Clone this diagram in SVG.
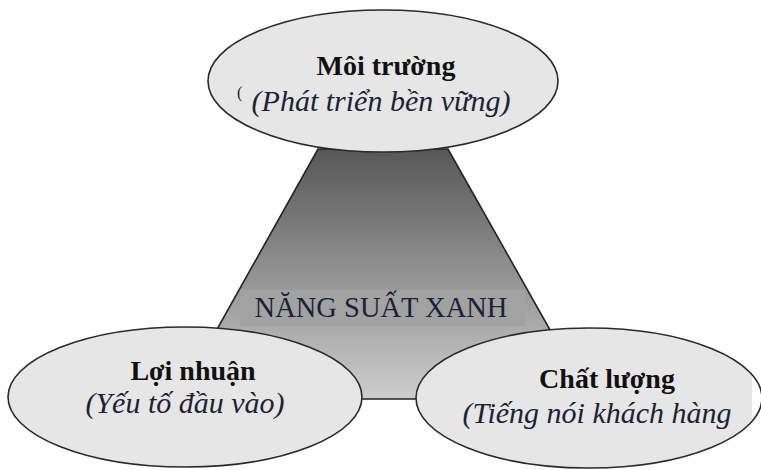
<svg xmlns="http://www.w3.org/2000/svg" width="761" height="470" viewBox="0 0 761 470">
<defs>
<linearGradient id="g" x1="0" y1="0" x2="0" y2="1">
<stop offset="0" stop-color="#575757"/>
<stop offset="1" stop-color="#cdcdcd"/>
</linearGradient>
<style>
.el{fill:#e6e6e6;stroke:#2a2a2a;stroke-width:1.6}
.b{font-family:"Liberation Serif",serif;font-weight:bold;font-size:28px;fill:#111;text-anchor:middle}
.i{font-family:"Liberation Serif",serif;font-style:italic;font-size:30px;fill:#1c2236;text-anchor:middle}
.c{font-family:"Liberation Serif",serif;font-size:28.5px;fill:#1a2238;text-anchor:middle}
</style>
</defs>
<rect width="761" height="470" fill="#fff"/>
<g id="center">
<polygon points="318,149 448,149 589,399 178,399" fill="url(#g)" stroke="#222" stroke-width="1.6"/>
<rect x="240" y="290" width="285" height="36" fill="#a2a2a2"/>
<text class="c" x="381" y="317">NĂNG SUẤT XANH</text>
</g>
<g id="moi-truong">
<ellipse class="el" cx="383" cy="81" rx="175" ry="71"/>
<text class="b" x="386" y="75">Môi trường</text>
<text style="font-family:'Liberation Serif',serif;font-size:16px;fill:#222" x="237" y="98">(</text>
<text class="i" x="381" y="111">(Phát triển bền vững)</text>
</g>
<g id="loi-nhuan">
<ellipse class="el" cx="185" cy="397" rx="177" ry="70"/>
<text class="b" x="193" y="380">Lợi nhuận</text>
<text class="i" x="185" y="413">(Yếu tố đầu vào)</text>
</g>
<g id="chat-luong">
<ellipse cx="589" cy="398" rx="173" ry="70" fill="#e6e6e6"/>
<rect x="752" y="361" width="9" height="72" fill="#fff"/>
<ellipse cx="589" cy="398" rx="173" ry="70" fill="none" stroke="#2a2a2a" stroke-width="1.6"/>
<text class="b" x="607" y="388">Chất lượng</text>
<text class="i" x="597" y="423">(Tiếng nói khách hàng</text>
</g>
<g id="connectors"></g>
</svg>
